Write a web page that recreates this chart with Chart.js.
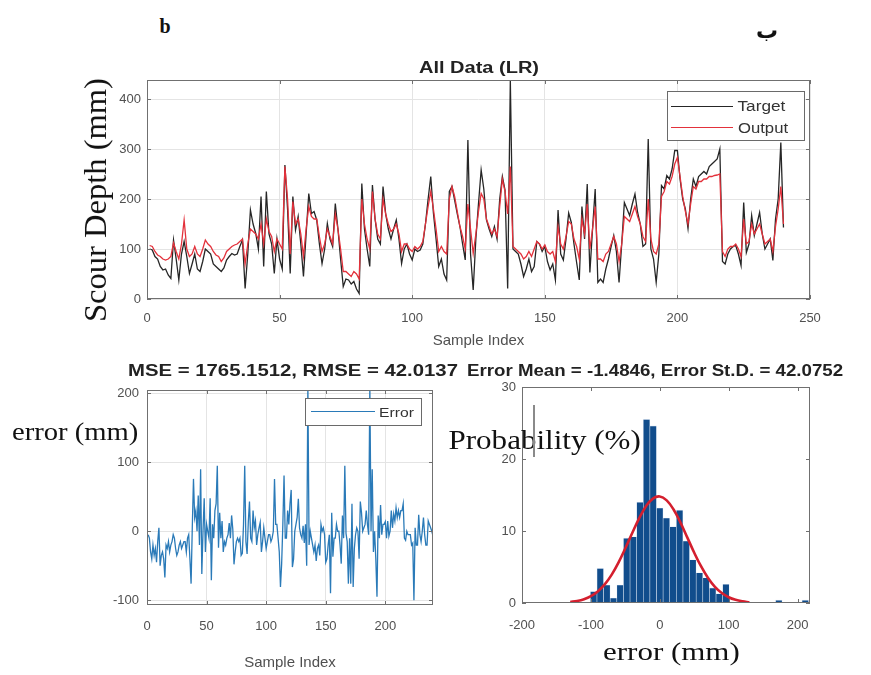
<!DOCTYPE html>
<html><head><meta charset="utf-8">
<script src="https://cdn.jsdelivr.net/npm/chart.js@4"></script>
<style>
body{margin:0;background:#fff;width:871px;height:675px;overflow:hidden;position:relative;font-family:"Liberation Sans",Arial,sans-serif;}
.cv{position:absolute;}
.t{position:absolute;white-space:nowrap;line-height:1;color:#111;transform-origin:50% 50%;}
.serif{font-family:"Liberation Serif","Times New Roman",serif;}
.lg{position:absolute;background:#fff;border:1px solid #6a6a6a;}
.ln{position:absolute;}
</style></head><body>

<div class="cv" style="left:0;top:40px;width:850px;height:320px;"><canvas id="c1" width="850" height="320"></canvas></div>
<div class="cv" style="left:0;top:370px;width:460px;height:305px;"><canvas id="c2" width="460" height="305"></canvas></div>
<div class="cv" style="left:440px;top:370px;width:431px;height:305px;"><canvas id="c3" width="431" height="305"></canvas></div>

<span class="t serif" id="lb" style="font-weight:bold;font-size:20px;">b</span>
<span class="t" id="lar" style="font-family:'DejaVu Sans';font-weight:bold;font-size:22px;">ب</span>
<span class="t" id="ttl" style="font-weight:bold;font-size:16px;color:#222;">All Data (LR)</span>
<span class="t serif" id="ylab" style="font-size:32px;">Scour Depth (mm)</span>
<span class="t" id="t2" style="font-weight:bold;font-size:17px;color:#222;">MSE = 1765.1512, RMSE = 42.0137</span>
<span class="t" id="t3" style="font-weight:bold;font-size:17px;color:#222;">Error Mean = -1.4846, Error St.D. = 42.0752</span>
<span class="t serif" id="elab" style="font-size:25px;">error (mm)</span>
<span class="t serif" id="plab" style="font-size:27px;">Probability (%)</span>
<span class="t serif" id="xlab3" style="font-size:26px;">error (mm)</span>
<div class="ln" style="left:533px;top:405px;width:1.5px;height:52px;background:#8a8a8a;"></div>

<div class="lg" style="left:667px;top:91px;width:136px;height:48px;"></div>
<div class="ln" style="left:671px;top:105.5px;width:62px;height:1.6px;background:#262626;"></div>
<div class="ln" style="left:671px;top:126.5px;width:62px;height:1.6px;background:#e3313b;"></div>
<span class="t" id="lgT" style="font-size:14px;color:#333;">Target</span>
<span class="t" id="lgO" style="font-size:14px;color:#333;">Output</span>

<div class="lg" style="left:305px;top:398px;width:115px;height:26px;"></div>
<div class="ln" style="left:311px;top:410.5px;width:64px;height:1.6px;background:#2a7ab8;"></div>
<span class="t" id="lgE" style="font-size:13px;color:#333;">Error</span>

<script>
// ---------------- data ----------------
const sampleIndex = Array.from({length:240}, (_, i) => i + 1);

const target = [
 100, 98, 85, 80, 65, 58, 60, 48, 41, 118,
 80, 38, 90, 115, 85, 51, 70, 90, 60, 55,
 75, 100, 95, 90, 70, 65, 60, 55, 62, 78,
 85, 91, 88, 90, 105, 118, 21, 90, 178, 150,
 131, 100, 205, 65, 215, 130, 110, 51, 120, 80,
 60, 268, 180, 51, 205, 138, 165, 110, 45, 130,
 211, 171, 175, 158, 110, 71, 100, 151, 120, 105,
 191, 140, 80, 25, 40, 38, 30, 35, 20, 11,
 231, 140, 100, 65, 228, 160, 120, 110, 225, 170,
 140, 120, 140, 158, 120, 71, 100, 110, 90, 78,
 100, 95, 98, 110, 150, 200, 245, 172, 120, 65,
 80, 50, 38, 215, 225, 198, 170, 145, 110, 78,
 318, 90, 18, 120, 191, 258, 220, 158, 140, 125,
 145, 120, 200, 245, 218, 21, 437, 100, 95, 90,
 70, 45, 60, 80, 55, 65, 115, 110, 95, 105,
 75, 58, 70, 38, 178, 90, 78, 120, 172, 153,
 110, 73, 38, 185, 120, 230, 53, 140, 220, 33,
 40, 33, 60, 80, 105, 127, 95, 33, 110, 193,
 180, 167, 190, 210, 173, 150, 105, 110, 320, 100,
 80, 33, 90, 227, 220, 247, 240, 260, 297, 297,
 240, 200, 180, 141, 200, 240, 225, 245, 250, 255,
 250, 265, 270, 275, 280, 300, 75, 70, 90, 100,
 105, 107, 90, 67, 193, 93, 110, 167, 127, 150,
 173, 130, 100, 110, 120, 77, 160, 200, 313, 143
];

const output = [
 107, 105, 95, 88, 85, 80, 78, 80, 85, 112,
 95, 80, 110, 158, 100, 85, 90, 105, 90, 85,
 100, 118, 110, 105, 95, 88, 85, 75, 82, 95,
 100, 105, 108, 110, 115, 120, 70, 110, 140, 135,
 130, 120, 150, 110, 160, 135, 125, 95, 120, 110,
 100, 265, 200, 90, 195, 150, 160, 130, 85, 140,
 185, 165, 160, 160, 125, 95, 110, 140, 125, 110,
 170, 140, 100, 55, 55, 50, 45, 55, 50, 40,
 200, 150, 120, 100, 215, 160, 130, 120, 200, 170,
 150, 135, 140, 150, 130, 95, 110, 110, 100, 95,
 105, 100, 105, 115, 150, 185, 215, 180, 140, 95,
 105, 95, 90, 200, 225, 205, 175, 145, 125, 100,
 190, 140, 91, 130, 175, 211, 200, 160, 145, 130,
 140, 125, 185, 240, 215, 170, 265, 105, 100, 95,
 90, 80, 85, 95, 85, 100, 115, 110, 100, 108,
 95, 90, 95, 75, 145, 110, 100, 125, 155, 150,
 120, 105, 80, 160, 130, 190, 100, 140, 185, 80,
 80, 75, 90, 95, 110, 125, 110, 75, 110, 165,
 160, 155, 170, 185, 165, 150, 125, 115, 200, 120,
 95, 90, 110, 205, 215, 235, 230, 245, 270, 283,
 245, 205, 175, 150, 190, 225, 220, 235, 235, 240,
 240, 245, 245, 247, 248, 250, 95, 85, 100, 105,
 105, 110, 100, 85, 160, 110, 115, 150, 130, 140,
 150, 130, 110, 115, 120, 95, 145, 180, 225, 150
];

const errorValues = [
 -5, -10, -30, -40, -20, -35, -25, -45, -15, 5,
 -50, -35, -30, -40, -67, -20, -25, -15, -30, -20,
 -15, -5, -10, -25, -35, -30, -20, -15, -25, -20,
 -15, -15, -30, -10, -5, -40, -76, 5, 76, 20,
 30, 0, 52, -20, 90, -62, 0, 48, -30, 10,
 0, -10, 48, -71, 10, -10, 30, 40, 95, -24,
 27, -10, 15, -30, -15, -20, -10, -5, 12, -10,
 23, 3, -48, -30, -15, -10, -15, -10, -35, -32,
 10, 95, -15, -33, 13, 43, -10, -15, 30, 5,
 15, -20, -5, 5, 13, -30, -15, 5, -10, -25,
 -15, -5, -5, -15, -10, 0, 76, 10, 10, -10,
 -30, -81, -47, 10, 81, -10, -10, 30, 10, 40,
 60, -52, -40, 0, 10, 20, 47, 5, -5, -10,
 8, -17, 10, -50, 210, -20, 0, -10, -20, -30,
 -20, -43, -25, -20, -35, 10, 0, 5, -5, -45,
 -40, -20, -5, -90, 27, -37, -10, -10, 10, 0,
 0, -20, -47, 23, -10, 95, -3, -15, -76, -10,
 -76, 40, -81, -25, -5, 5, 0, -40, 43, 27,
 0, 5, 10, 30, 10, -5, 210, 0, 90, -30,
 0, -40, -95, 23, -10, 38, -5, 10, 10, 14,
 -10, 15, -7, 0, 30, 5, 25, 15, 34, 20,
 30, 20, 30, 30, 40, -10, -13, 0, -5, -5,
 -5, -20, -17, -100, 5, -20, -20, 24, -5, -15,
 0, 20, -5, -20, -20, 15, 10, 5, 0, -7
];

const binCenters = [-96, -86.4, -76.8, -67.2, -57.6, -48, -38.4, -28.8, -19.2, -9.6, 0, 9.6, 19.2, 28.8, 38.4, 48, 57.6, 67.2, 76.8, 86.4, 96, 172.8, 211.2];
const binProb = [1.6, 4.8, 2.5, 0.7, 2.5, 9, 9.2, 14, 25.5, 24.6, 13.2, 11.8, 10.6, 12.9, 8.6, 6, 4.2, 3.5, 2.1, 1.3, 2.6, 0.4, 0.4];

const fitX = [-130, -120, -110, -100, -90, -80, -70, -60, -50, -40, -30, -20, -10, 0, 10, 20, 30, 40, 50, 60, 70, 80, 90, 100, 110, 120, 130];
const fitY = [0.14, 0.28, 0.53, 0.95, 1.6, 2.58, 3.91, 5.61, 7.6, 9.72, 11.76, 13.44, 14.5, 14.8, 14.25, 12.98, 11.17, 9.08, 6.98, 5.07, 3.48, 2.25, 1.38, 0.8, 0.44, 0.23, 0.11];

// ---------------- helpers ----------------
const tickFont = {family: "'Liberation Sans', Arial, sans-serif", size: 13};
const tickColor = '#505050';
const gridColor = '#e4e4e4';

const frame = {
  id: 'frame',
  afterDatasetsDraw(c) {
    const {ctx, chartArea: a, scales: {x, y}} = c;
    ctx.save();
    ctx.strokeStyle = '#707070';
    ctx.lineWidth = 1;
    ctx.beginPath();
    x.ticks.forEach(t => {
      const px = Math.round(x.getPixelForValue(t.value)) + 0.5;
      ctx.moveTo(px, a.bottom); ctx.lineTo(px, a.bottom - 4);
      ctx.moveTo(px, a.top); ctx.lineTo(px, a.top + 4);
    });
    y.ticks.forEach(t => {
      const py = Math.round(y.getPixelForValue(t.value)) + 0.5;
      ctx.moveTo(a.left, py); ctx.lineTo(a.left + 4, py);
      ctx.moveTo(a.right, py); ctx.lineTo(a.right - 4, py);
    });
    ctx.stroke();
    ctx.strokeRect(Math.round(a.left) + 0.5, Math.round(a.top) + 0.5, Math.round(a.right - a.left) - 1, Math.round(a.bottom - a.top) - 1);
    ctx.restore();
  }
};

function xyData(xs, ys) { return xs.map((x, k) => ({x: x, y: ys[k]})); }

const baseOpts = {
  animation: false, responsive: false, maintainAspectRatio: false,
  plugins: {legend: {display: false}, tooltip: {enabled: false}, title: {display: false}},
  elements: {point: {radius: 0}, line: {tension: 0}}
};

// ---------------- top chart ----------------
new Chart(document.getElementById('c1'), {
  type: 'line',
  data: {datasets: [
    {label: 'Target', data: xyData(sampleIndex, target), borderColor: '#262626', borderWidth: 1.3, pointRadius: 0, order: 1},
    {label: 'Output', data: xyData(sampleIndex, output), borderColor: '#e3313b', borderWidth: 1.3, pointRadius: 0, order: 0}
  ]},
  options: Object.assign({}, baseOpts, {
    layout: {padding: {left: 107, right: 40, top: 40, bottom: 10}},
    scales: {
      x: {type: 'linear', min: 0, max: 250,
          ticks: {stepSize: 50, font: tickFont, color: tickColor, padding: 12, maxRotation: 0, includeBounds: false},
          grid: {color: gridColor, drawTicks: false}, border: {display: false},
          title: {display: true, text: 'Sample Index', font: {family: tickFont.family, size: 15}, color: '#505050', padding: {top: 0, bottom: 0}},
          afterFit: s => { s.height = 51; }},
      y: {type: 'linear', min: 0, max: 438,
          ticks: {stepSize: 100, font: tickFont, color: tickColor, padding: 6, includeBounds: false},
          grid: {color: gridColor, drawTicks: false}, border: {display: false},
          afterFit: s => { s.width = 40; }}
    }
  }),
  plugins: [frame]
});

// ---------------- bottom-left error chart ----------------
new Chart(document.getElementById('c2'), {
  type: 'line',
  data: {datasets: [
    {label: 'Error', data: xyData(sampleIndex, errorValues), borderColor: '#2a7ab8', borderWidth: 1.3, pointRadius: 0}
  ]},
  options: Object.assign({}, baseOpts, {
    layout: {padding: {left: 107, right: 27, top: 20, bottom: 3}},
    scales: {
      x: {type: 'linear', min: 0, max: 240,
          ticks: {stepSize: 50, font: tickFont, color: tickColor, padding: 14, maxRotation: 0, includeBounds: false},
          grid: {color: gridColor, drawTicks: false}, border: {display: false},
          title: {display: true, text: 'Sample Index', font: {family: tickFont.family, size: 15}, color: '#505050', padding: {top: 0, bottom: 0}},
          afterFit: s => { s.height = 67; }},
      y: {type: 'linear', min: -107, max: 205,
          ticks: {stepSize: 100, font: tickFont, color: tickColor, padding: 8, includeBounds: false},
          grid: {color: gridColor, drawTicks: false}, border: {display: false},
          afterFit: s => { s.width = 40; }}
    }
  }),
  plugins: [frame]
});

// ---------------- bottom-right histogram ----------------
new Chart(document.getElementById('c3'), {
  type: 'bar',
  data: {datasets: [
    {type: 'line', label: 'Fit', data: xyData(fitX, fitY), borderColor: '#d41f2e', borderWidth: 2.6, pointRadius: 0, tension: 0.4, order: 0},
    {type: 'bar', label: 'Hist', data: xyData(binCenters, binProb), backgroundColor: '#114d8c', borderColor: 'rgba(200,215,235,0.55)', borderWidth: 0.6, barPercentage: 1, categoryPercentage: 1, order: 1}
  ]},
  options: Object.assign({}, baseOpts, {
    layout: {padding: {left: 42, right: 61, top: 17, bottom: 42}},
    scales: {
      x: {type: 'linear', min: -200, max: 218, offset: false,
          ticks: {stepSize: 100, font: tickFont, color: tickColor, padding: 15, maxRotation: 0, includeBounds: false},
          grid: {display: false, drawTicks: false}, border: {display: false},
          afterFit: s => { s.height = 30; }},
      y: {type: 'linear', min: 0, max: 30,
          ticks: {stepSize: 10, font: tickFont, color: tickColor, padding: 6, includeBounds: false},
          grid: {display: false, drawTicks: false}, border: {display: false},
          afterFit: s => { s.width = 40; }}
    }
  }),
  plugins: [frame]
});

// ---------------- text placement ----------------
function place(id, cx, cy, w, rot) {
  const el = document.getElementById(id);
  const s = w ? w / el.offsetWidth : 1;
  el.style.left = cx + 'px';
  el.style.top = cy + 'px';
  el.style.marginLeft = (-el.offsetWidth / 2) + 'px';
  el.style.marginTop = (-el.offsetHeight / 2) + 'px';
  el.style.transform = 'rotate(' + (rot || 0) + 'deg) scaleX(' + s + ')';
}
place('lb', 165, 26, 0);
place('lar', 767, 31, 0);
place('ttl', 479, 68, 120);
place('ylab', 95, 200, 244, -90);
place('t2', 293, 370, 330);
place('t3', 655, 370, 376);
place('elab', 75, 431, 126);
place('plab', 544, 440, 192);
place('xlab3', 671, 652, 137);
place('lgT', 761, 106, 48);
place('lgO', 763, 128, 50);
place('lgE', 396, 412, 35);
</script>
</body></html>
